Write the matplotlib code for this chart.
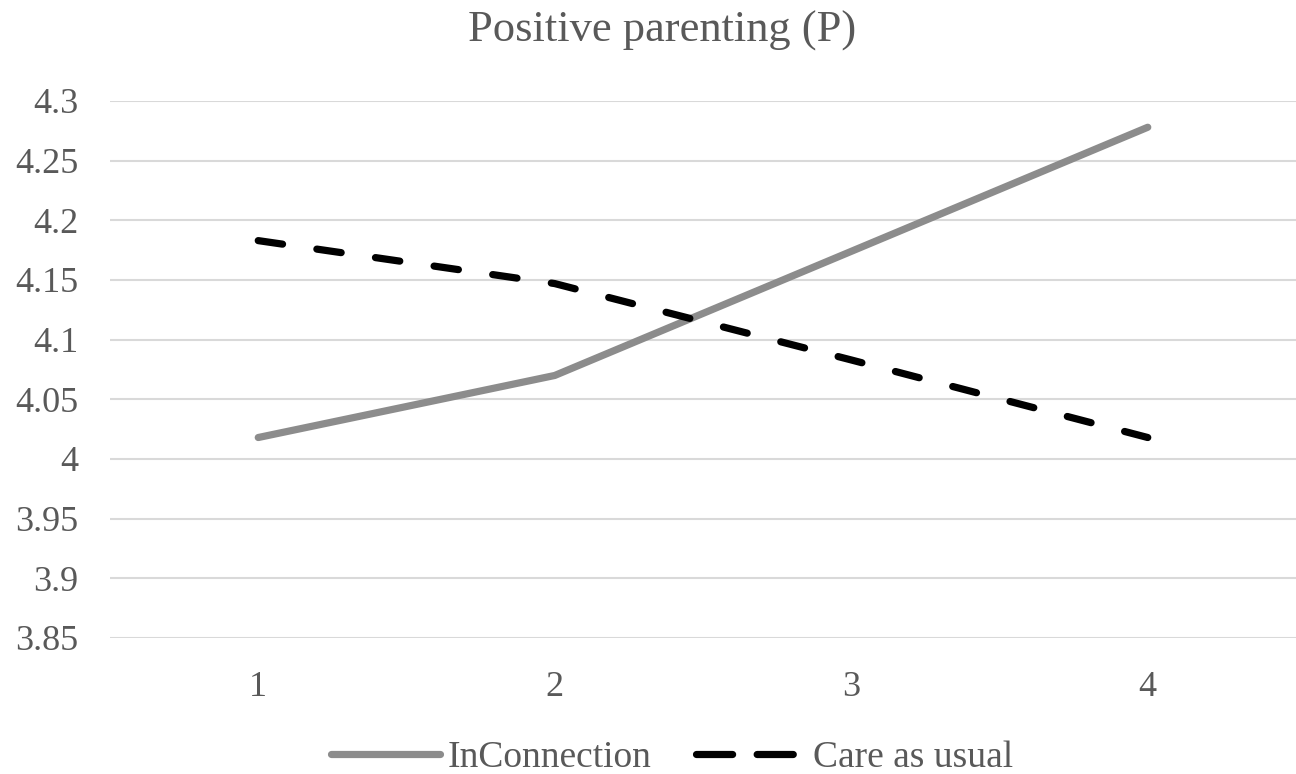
import matplotlib
matplotlib.use("Agg")
import matplotlib.pyplot as plt
from matplotlib.lines import Line2D

# data
timepoints = [1, 2, 3, 4]
inconnection = [4.018, 4.070, 4.174, 4.278]
care_as_usual = [4.183, 4.147, 4.083, 4.018]
yticks = [3.85, 3.9, 3.95, 4.0, 4.05, 4.1, 4.15, 4.2, 4.25, 4.3]
ytick_labels = ["3.85", "3.9", "3.95", "4", "4.05", "4.1", "4.15", "4.2", "4.25", "4.3"]

TXT = "#595959"
GRAY = "#8c8c8c"
plt.rcParams["font.family"] = ["Liberation Serif", "DejaVu Serif"]

W, H = 1296, 774
fig = plt.figure(figsize=(W / 100, H / 100), dpi=100)
ax = fig.add_axes([110 / W, 1 - 638 / H, (W - 110) / W, (638 - 101) / H])

ax.plot(timepoints, inconnection, color=GRAY, lw=5.2, solid_capstyle="round",
        solid_joinstyle="round")
ax.plot(timepoints, care_as_usual, color="black", lw=5.2, dashes=(3.4, 4.8),
        dash_capstyle="round")

ax.set_xlim(0.5, 4.5)
ax.set_ylim(3.85, 4.3)
ax.set_xticks(timepoints)
ax.set_xticklabels([str(t) for t in timepoints])
ax.set_yticks(yticks)
ax.set_yticklabels(ytick_labels)
ax.tick_params(axis="both", length=0, labelsize=26, colors=TXT)
ax.tick_params(axis="x", pad=24)
ax.tick_params(axis="y", pad=23)
ax.grid(axis="y", color="#d9d9d9", lw=1.5)
ax.set_axisbelow(True)
for s in ax.spines.values():
    s.set_visible(False)

fig.text(662 / W, 1 - 42 / H, "Positive parenting (P)", ha="center", va="baseline",
         fontsize=32, color=TXT)

handles = [
    Line2D([], [], color=GRAY, lw=5.2, solid_capstyle="round"),
    Line2D([], [], color="black", lw=5.2, dashes=(5.0, 3.4), dash_capstyle="round"),
]
fig.legend(handles, ["InConnection", "Care as usual"], loc="center",
           bbox_to_anchor=(672 / W, 1 - 758 / H), ncol=2, frameon=False,
           fontsize=27, labelcolor=TXT, handlelength=2.9, columnspacing=1.2,
           handletextpad=0.2, borderpad=0)

fig.savefig("out.png", dpi=100)
